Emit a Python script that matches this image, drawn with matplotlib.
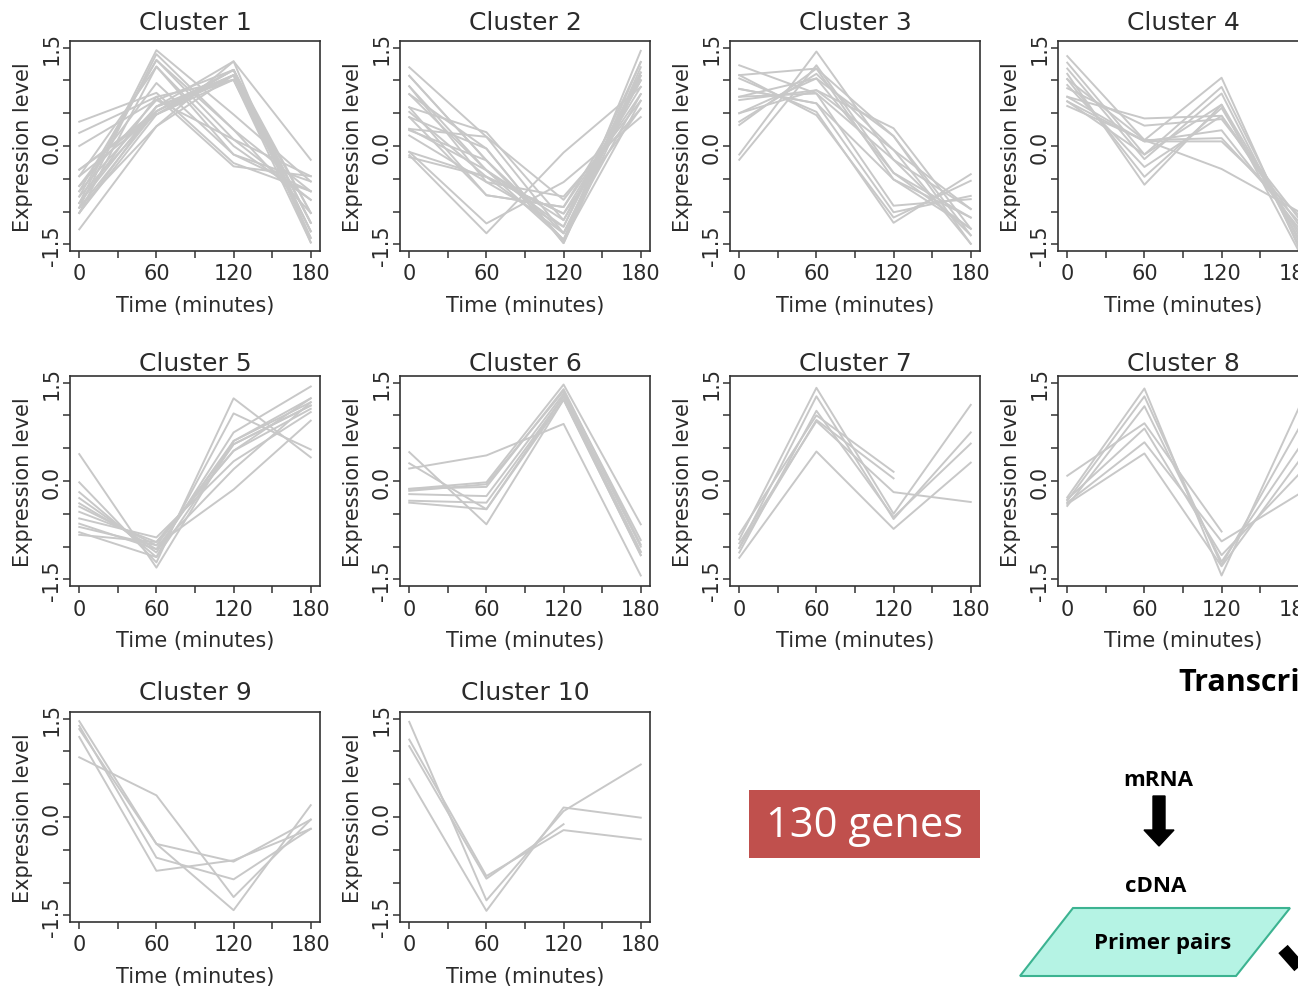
import numpy as np
import matplotlib
matplotlib.use('Agg')
import matplotlib.pyplot as plt
from matplotlib.patches import Rectangle, Polygon, FancyArrow

plt.rcParams['font.family'] = ['DejaVu Sans']

nan = np.nan
times = [0, 60, 120, 180]
x_ticks = [0, 30, 60, 90, 120, 150, 180]
x_tick_labels = ['0', '', '60', '', '120', '', '180']
y_ticks = [-1.5, -1.0, -0.5, 0.0, 0.5, 1.0, 1.5]
y_tick_labels = ['-1.5', '', '', '0.0', '', '', '1.5']
titles = ['Cluster %d' % i for i in range(1, 11)]

# expression at 0, 60, 120, 180 min
cluster1 = [
    [-0.87, 1.46, 0.48, -0.54], [-0.94, 1.40, 0.25, -0.69], [-0.69, 1.31, 0.10, -0.46],
    [-1.02, 1.21, 0.00, -0.82], [-0.61, 0.96, -0.13, -0.54], [0.37, 0.81, -0.26, -0.69],
    [0.20, 0.75, -0.31, -0.46], [0.00, 0.70, 0.10, -0.82], [-0.77, 1.31, 0.25, -1.02],
    [-0.46, 1.21, -0.13, -0.69],
    [-1.27, 0.30, 1.29, -0.21], [-1.02, 0.48, 1.16, -1.30], [-0.94, 0.53, 1.08, -1.40],
    [-0.87, 0.60, 1.01, -1.47], [-0.77, 0.53, 1.16, -1.17], [-0.69, 0.60, 1.08, -1.02],
    [-0.36, 0.48, 1.01, -1.30], [-0.61, 0.70, 1.16, -1.40], [-0.46, 0.48, 1.08, -1.17],
    [-1.02, 0.60, 1.29, -1.47], [-0.87, 0.75, 1.01, -1.30], [-0.36, 0.53, 1.16, -1.02],
    [-0.94, 0.30, 1.08, -1.17],
]
cluster2 = [
    [1.20, 0.14, -1.33, 1.12], [1.07, -0.22, -1.43, 1.45], [0.91, -0.37, -1.23, 1.28],
    [0.79, -0.04, -1.48, 1.07], [0.59, 0.21, -1.13, 1.00], [0.52, -0.47, -1.03, 0.90],
    [0.44, -0.75, -0.93, 0.79], [0.26, 0.14, -0.82, 0.69], [0.24, -0.22, -1.43, 1.28],
    [0.16, -0.55, -0.77, 0.57], [-0.09, -1.18, -0.55, 0.44], [-0.14, -1.33, -0.10, 0.90],
    [-0.17, -0.47, -1.33, 1.07], [0.91, -0.55, -1.23, 1.12], [0.26, -0.37, -1.13, 1.00],
    [0.44, -0.04, -1.48, 1.20], [1.07, -0.22, -1.33, 0.79], [-0.09, -0.47, -1.03, 0.57],
    [0.59, -0.75, -0.93, 1.00], [0.79, -0.37, -1.43, 0.69],
]
cluster3 = [
    [-0.13, 1.44, -0.21, -1.36], [-0.21, 1.23, -0.41, -1.26], [0.32, 1.18, -0.51, -1.09],
    [0.37, 1.10, -0.06, -1.49], [0.50, 1.03, 0.15, -1.36], [0.70, 0.85, 0.27, -1.26],
    [0.75, 0.80, -0.91, -0.81], [0.87, 0.65, -1.01, -0.76], [1.03, 0.52, -1.17, -0.43],
    [1.08, 0.47, -1.09, -0.53], [1.23, 0.80, -0.21, -0.96], [0.75, 1.03, -0.41, -1.09],
    [0.50, 0.85, -0.06, -0.96], [1.08, 1.18, 0.15, -1.49], [0.87, 0.65, -0.51, -1.26],
]
cluster4 = [
    [1.37, 0.09, 1.04, -1.55], [1.27, -0.13, 0.90, -1.45], [1.18, -0.20, 0.80, -1.50],
    [1.10, -0.59, 0.63, -1.35], [1.02, -0.47, 0.58, -1.40], [0.93, -0.32, 0.46, -1.30],
    [0.88, 0.31, 0.41, -1.10], [0.75, 0.42, 0.46, -1.20], [0.68, 0.07, 0.24, -1.25],
    [0.61, 0.09, 0.12, -1.15], [0.75, 0.07, 0.07, -1.05], [1.02, 0.09, -0.35, -1.00],
    [0.68, -0.13, 0.63, -1.60],
]
cluster5 = [
    [0.41, -1.32, 0.61, 1.20], [-0.02, -1.24, 1.26, 0.36], [-0.17, -1.16, 1.03, 0.48],
    [-0.26, -1.09, 0.74, 1.44], [-0.34, -1.04, 0.61, 1.26], [-0.39, -0.98, 0.56, 1.15],
    [-0.47, -0.93, 0.46, 1.10], [-0.57, -0.86, 0.30, 1.05], [-0.65, -1.04, 0.18, 1.20],
    [-0.70, -0.98, -0.13, 0.92], [-0.78, -1.16, 0.56, 1.15], [-0.82, -0.93, 0.46, 1.26],
]
cluster6 = [
    [0.19, 0.39, 0.87, -1.44], [0.44, -0.66, 1.24, -1.13], [0.27, -0.43, 1.29, -1.08],
    [-0.12, -0.02, 1.47, -0.66], [-0.15, -0.05, 1.37, -0.90], [-0.12, -0.09, 1.40, -0.97],
    [-0.20, -0.23, 1.33, -1.00], [-0.30, -0.33, 1.29, -1.08], [-0.33, -0.43, 1.24, -1.13],
]
cluster7 = [
    [-0.89, 1.42, -0.50, 1.16], [-1.02, 1.29, -0.58, 0.74], [-1.09, 1.07, -0.55, 0.57],
    [-1.17, 0.45, -0.73, 0.28], [-0.81, 1.00, 0.14, nan], [-1.02, 0.93, 0.04, nan],
    [-0.95, 0.91, -0.17, -0.32],
]
cluster8 = [
    [0.08, 0.88, -0.77, nan], [-0.25, 1.41, -1.44, 1.11], [-0.30, 1.29, -1.28, 0.80],
    [-0.38, 1.14, -1.23, 0.50], [-0.28, 0.80, -1.13, 0.10], [-0.33, 0.59, -0.92, -0.20],
    [-0.35, 0.42, -1.30, 0.30],
]
cluster9 = [
    [0.91, 0.33, -1.22, -0.04], [1.46, -0.41, -1.42, 0.18], [1.39, -0.62, -0.95, -0.18],
    [1.22, -0.82, -0.66, -0.18], [1.34, -0.41, -0.68, -0.04],
]
cluster10 = [
    [1.45, -1.27, 0.09, 0.80], [0.58, -1.43, 0.145, -0.01], [1.18, -0.90, -0.20, -0.34],
    [1.08, -0.94, -0.11, nan],
]
clusters = [cluster1, cluster2, cluster3, cluster4, cluster5,
            cluster6, cluster7, cluster8, cluster9, cluster10]

W, H = 1298, 995
col_left = [70, 400, 730, 1058]
row_top = [42, 377, 713]
title_pad = [9, 4, 9]
ax_w, ax_h = 250, 210
txt = '#2b2b2b'

fig = plt.figure(figsize=(W / 100, H / 100), dpi=100)

# overlay for the side graphics, pixel coordinates
ov = fig.add_axes([0, 0, 1, 1])
ov.set_xlim(0, W)
ov.set_ylim(H, 0)
ov.axis('off')

for i, (cl, title) in enumerate(zip(clusters, titles)):
    r, c = divmod(i, 4)
    l, t = col_left[c], row_top[r]
    ax = fig.add_axes([l / W, 1 - (t + ax_h) / H, ax_w / W, ax_h / H])
    for gene in cl:
        ax.plot(times, gene, color='#c8c8c8', lw=1.4)
    ax.set_xlim(-7.2, 187.2)
    ax.set_ylim(-1.6, 1.6)
    ax.set_xticks(x_ticks)
    ax.set_xticklabels(x_tick_labels)
    ax.set_yticks(y_ticks)
    ax.set_yticklabels(y_tick_labels, rotation=90, va='center')
    ax.tick_params(direction='out', length=5, width=1.1, color='#333333',
                   labelsize=15, labelcolor=txt)
    ax.tick_params(axis='x', pad=4)
    ax.tick_params(axis='y', pad=1)
    for sp in ax.spines.values():
        sp.set_color('#333333')
        sp.set_linewidth(1.2)
    ax.set_title(title, fontsize=18, color=txt, pad=title_pad[r])
    ax.set_xlabel('Time (minutes)', fontsize=15, color=txt, labelpad=8)
    ax.set_ylabel('Expression level', fontsize=15, color=txt, labelpad=6)

# 130 genes box
ov.add_patch(Rectangle((749, 791), 231, 68, color='#C0504D', lw=0))
ov.text(864.5, 826, '130 genes', color='white', fontsize=30,
        family=['Open Sans', 'DejaVu Sans'], ha='center', va='center')

# workflow fragment on the right
bold = dict(family=['Open Sans', 'DejaVu Sans'], fontweight='bold', color='black')
ov.text(1178, 683, 'Transcriptome', fontsize=22, ha='left', va='center', **bold)
ov.text(1158, 780, 'mRNA', fontsize=16, ha='center', va='center', **bold)
ov.add_patch(FancyArrow(1159, 797, 0, 50, width=12, head_width=30, head_length=16,
                        length_includes_head=True, color='black'))
ov.text(1156, 887, 'cDNA', fontsize=16, ha='center', va='center', **bold)
ov.add_patch(Polygon([(1020, 977), (1073, 909), (1290, 909), (1236, 977)],
                     facecolor='#b5f3e4', edgecolor='#3cb391', lw=1.5))
ov.text(1163, 943, 'Primer pairs', fontsize=16, ha='center', va='center', **bold)
ov.plot([1283, 1322], [950, 994], color='black', lw=9, solid_capstyle='butt')

fig.savefig('out.png', dpi=100)
